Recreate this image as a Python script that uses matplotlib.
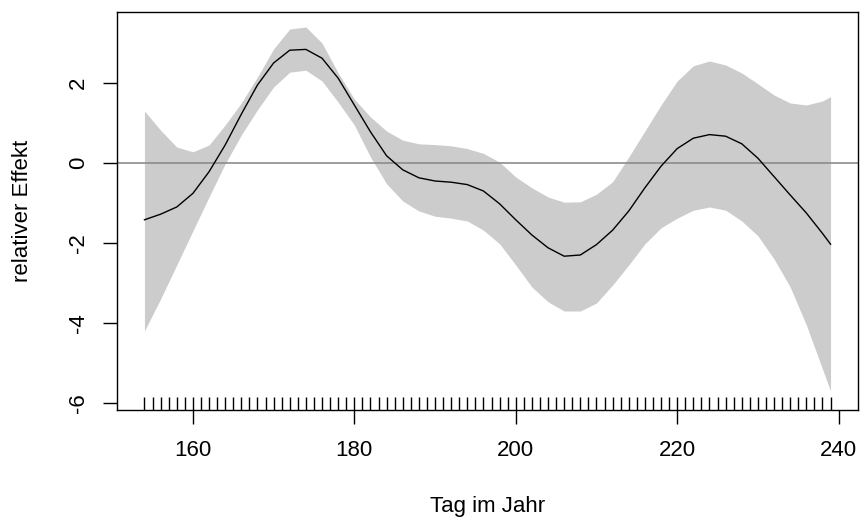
import matplotlib
matplotlib.use('Agg')
import matplotlib.pyplot as plt
import matplotlib.transforms as mtransforms

plt.rcParams['font.family'] = ['Liberation Sans', 'DejaVu Sans']

# day of year (grid) and smooth effect with confidence band
day = [154, 156, 158, 160, 162, 164, 166, 168, 170, 172, 174, 176, 178, 180,
       182, 184, 186, 188, 190, 192, 194, 196, 198, 200, 202, 204, 206, 208,
       210, 212, 214, 216, 218, 220, 222, 224, 226, 228, 230, 232, 234, 236,
       238, 239]
fit = [-1.42, -1.28, -1.10, -0.76, -0.22, 0.45, 1.22, 1.95, 2.50, 2.82, 2.84,
       2.62, 2.12, 1.45, 0.78, 0.18, -0.17, -0.37, -0.45, -0.48, -0.54, -0.70,
       -1.02, -1.42, -1.80, -2.12, -2.33, -2.30, -2.04, -1.68, -1.20, -0.62,
       -0.08, 0.36, 0.62, 0.71, 0.67, 0.48, 0.12, -0.34, -0.80, -1.25, -1.76,
       -2.03]
upper = [1.30, 0.82, 0.40, 0.28, 0.45, 0.95, 1.50, 2.15, 2.85, 3.35, 3.40,
         3.00, 2.25, 1.60, 1.15, 0.80, 0.57, 0.48, 0.46, 0.43, 0.36, 0.24,
         0.02, -0.35, -0.62, -0.85, -0.98, -0.97, -0.78, -0.47, 0.15, 0.80,
         1.45, 2.05, 2.43, 2.55, 2.45, 2.25, 1.98, 1.70, 1.50, 1.45, 1.55,
         1.66]
lower = [-4.20, -3.40, -2.55, -1.70, -0.85, -0.02, 0.70, 1.33, 1.90, 2.27,
         2.32, 2.05, 1.52, 0.95, 0.15, -0.52, -0.95, -1.20, -1.33, -1.38,
         -1.45, -1.68, -2.02, -2.55, -3.10, -3.47, -3.70, -3.70, -3.50, -3.05,
         -2.55, -2.02, -1.62, -1.38, -1.18, -1.10, -1.18, -1.45, -1.82, -2.40,
         -3.10, -4.05, -5.15, -5.70]

# observed days (rug)
rug_days = list(range(154, 240))

x_ticks = [160, 180, 200, 220, 240]
y_ticks = [-6, -4, -2, 0, 2]

fig = plt.figure(figsize=(8.61, 5.24), dpi=100)
ax = fig.add_axes([117 / 861, 114 / 524, 741 / 861, 398 / 524])

ax.fill_between(day, lower, upper, color='#cccccc', linewidth=0)
ax.axhline(0, color='#8c8c8c', lw=1.2)
ax.plot(day, fit, color='black', lw=1)

trans = mtransforms.blended_transform_factory(ax.transData, ax.transAxes)
ax.vlines(rug_days, 0, 0.032, transform=trans, color='black', lw=1)

ax.set_xlim(150.6, 242.4)
ax.set_ylim(-6.175, 3.775)
ax.set_xticks(x_ticks)
ax.set_yticks(y_ticks)
ax.set_yticklabels([str(v) for v in y_ticks], rotation=90, va='center')

ax.tick_params(axis='both', direction='out', length=10, width=1,
               labelsize=16, color='black')
ax.tick_params(axis='x', pad=11.5)
ax.tick_params(axis='y', pad=10)
for s in ax.spines.values():
    s.set_linewidth(1)
    s.set_color('black')

ax.set_xlabel('Tag im Jahr', fontsize=16)
ax.set_ylabel('relativer Effekt', fontsize=16)
ax.xaxis.set_label_coords(0.5, -(496 - 410) / 398)
ax.yaxis.set_label_coords(-(117 - 33) / 741, 0.5)

fig.savefig('out.png', dpi=100)
